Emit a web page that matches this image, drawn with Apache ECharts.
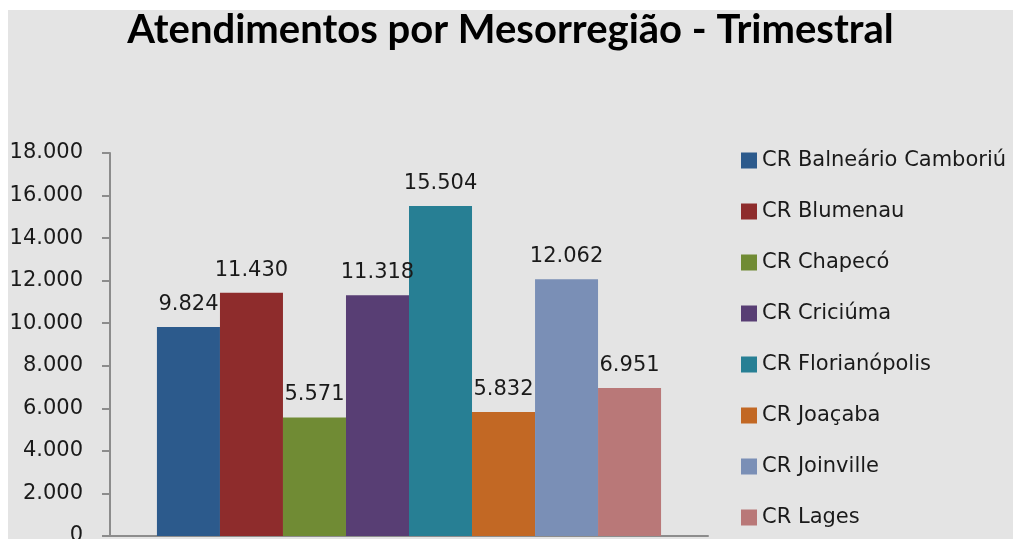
<!DOCTYPE html>
<html>
<head>
<meta charset="utf-8">
<script src="https://cdn.jsdelivr.net/npm/echarts@6/dist/echarts.min.js"></script>
<style>
  html, body { margin: 0; padding: 0; background: #ffffff; overflow: hidden; }
  #chart { position: absolute; left: 8px; top: 10px; width: 1005px; height: 529px; }
</style>
</head>
<body>
<div id="chart"></div>
<script>
const regions = ['CR Balneário Camboriú', 'CR Blumenau', 'CR Chapecó', 'CR Criciúma',
  'CR Florianópolis', 'CR Joaçaba', 'CR Joinville', 'CR Lages']
const atendimentos = [9824, 11430, 5571, 11318, 15504, 5832, 12062, 6951]
const colors = ['#2c5a8c', '#8e2c2c', '#708b34', '#583e74', '#277f94', '#c26824', '#7a8fb6', '#b97878']
const yTicks = [0, 2000, 4000, 6000, 8000, 10000, 12000, 14000, 16000, 18000]

const fmt = (v) => String(v).replace(/\B(?=(\d{3})+(?!\d))/g, '.')
const textFont = 'DejaVu Sans'

const chart = echarts.init(document.getElementById('chart'))

const series = regions.map((name, i) => ({
  name: name,
  type: 'bar',
  data: [atendimentos[i]],
  itemStyle: { color: colors[i] },
  barGap: '0%',
  barCategoryGap: '15.7%',
  label: {
    show: true,
    position: 'top',
    distance: 12,
    color: '#1a1a1a',
    fontFamily: textFont,
    fontSize: 21,
    formatter: (p) => fmt(p.value)
  }
}))

chart.setOption({
  backgroundColor: '#e4e4e4',
  animation: false,
  title: {
    text: 'Atendimentos por Mesorregião - Trimestral',
    left: 'center',
    top: -5,
    textStyle: { fontFamily: 'Lato', fontWeight: 'bold', fontSize: 40, color: '#000' }
  },
  legend: {
    orient: 'vertical',
    left: 728,
    top: 135,
    padding: [5, 5, 0, 5],
    icon: 'rect',
    itemWidth: 16,
    itemHeight: 16,
    itemGap: 30,
    textStyle: { fontFamily: textFont, fontSize: 21, color: '#1a1a1a', lineHeight: 20 },
    data: regions
  },
  grid: { left: 102, right: 305, top: 143, bottom: 3, containLabel: false, outerBoundsMode: 'none' },
  xAxis: {
    type: 'category',
    data: [''],
    axisLine: { lineStyle: { color: '#8c8c8c', width: 2 } },
    axisTick: { show: false },
    axisLabel: { show: false }
  },
  yAxis: {
    type: 'value',
    min: yTicks[0],
    max: yTicks[yTicks.length - 1],
    interval: 2000,
    splitLine: { show: false },
    axisLine: { show: true, lineStyle: { color: '#8c8c8c', width: 2 } },
    axisTick: { show: true, length: 8, lineStyle: { color: '#8c8c8c', width: 2 } },
    axisLabel: {
      margin: 27,
      color: '#1a1a1a',
      fontFamily: textFont,
      fontSize: 21,
      formatter: (v) => fmt(v)
    }
  },
  series: series
})
</script>
</body>
</html>
